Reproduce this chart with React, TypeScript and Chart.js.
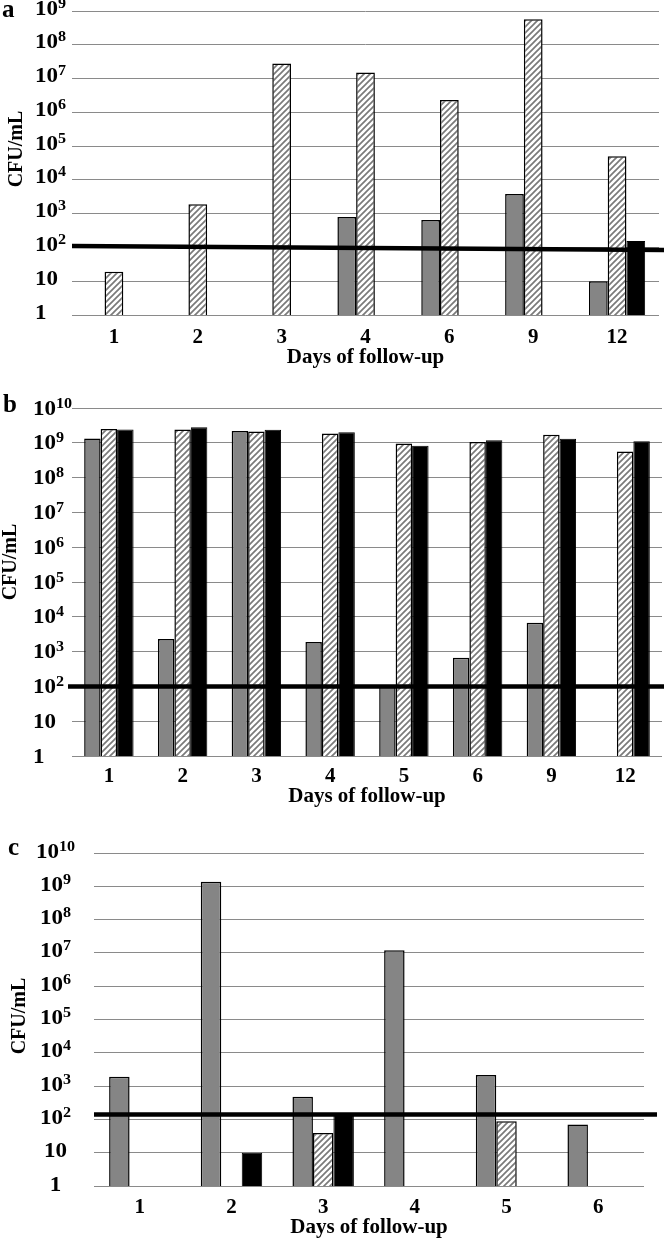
import React, { useEffect, useRef } from 'react';
import { Chart, registerables } from 'chart.js';

Chart.register(...registerables);

// ---------- data ----------
const daysA = ['1', '2', '3', '4', '6', '9', '12'];
const grayA = [null, null, null, 800, 650, 3800, 10];
const hatchA = [19, 1900, 2.8e7, 1.5e7, 2.3e6, 5.7e8, 5e4];
const blackA = [null, null, null, null, null, null, 155];
const thresholdA = [110, 84];

const daysB = ['1', '2', '3', '4', '5', '6', '9', '12'];
const grayB = [1.33e9, 2300, 2.2e9, 1900, 100, 670, 6700, null];
const hatchB = [2.5e9, 2.4e9, 2.1e9, 1.85e9, 9.5e8, 1.06e9, 1.69e9, 5.6e8];
const blackB = [2.4e9, 2.8e9, 2.37e9, 2.0e9, 8.2e8, 1.19e9, 1.3e9, 1.1e9];
const thresholdB = [100, 100];

const daysC = ['1', '2', '3', '4', '5', '6'];
const grayC = [1900, 1.37e9, 480, 1.2e7, 2150, 70];
const hatchC = [null, null, 39, null, 88, null];
const blackC = [null, 10, 150, null, null, null];
const thresholdC = [141, 141];

const yTicksA = [1, 10, 1e2, 1e3, 1e4, 1e5, 1e6, 1e7, 1e8, 1e9];
const yTicksBC = [1, 10, 1e2, 1e3, 1e4, 1e5, 1e6, 1e7, 1e8, 1e9, 1e10];

const xTitle = 'Days of follow-up';
const yTitle = 'CFU/mL';

// ---------- styles ----------
const FONT = '"Liberation Serif", "Times New Roman", serif';
const GRAY = '#858585';
const GRID = '#8a8a8a';
const LABEL_STRETCH = 1.15;

type Vals = (number | null)[];
type PanelCfg = {
  top: number;
  height: number;
  days: string[];
  gray: Vals;
  hatch: Vals;
  black: Vals;
  threshold: number[];
  yTicks: number[];
  yMax: number;
  plotLeft: number;
  padRight: number;
  padTop: number;
  xAxisH: number;
  tickPad: number;
  titlePadBottom: number;
  thrLeft: number;
  thrRight: number;
  yLabelX: number;
  yLabelAlign: 'left' | 'center';
  yLabelDy: number;
  yTitleX: number;
  yTitleY: number;
  letter: string;
  letterX: number;
  letterY: number;
};

function makeHatch(ctx: CanvasRenderingContext2D) {
  const c = document.createElement('canvas');
  c.width = 6;
  c.height = 6;
  const g = c.getContext('2d')!;
  g.fillStyle = '#ffffff';
  g.fillRect(0, 0, 6, 6);
  g.strokeStyle = '#7a7a7a';
  g.lineWidth = 1.7;
  g.beginPath();
  g.moveTo(-1, 7);
  g.lineTo(7, -1);
  g.moveTo(-1, 1);
  g.lineTo(1, -1);
  g.moveTo(5, 7);
  g.lineTo(7, 5);
  g.stroke();
  return ctx.createPattern(c, 'repeat') as CanvasPattern;
}

function makeDecor(cfg: PanelCfg) {
  return {
    id: 'decor' + cfg.letter,
    afterDatasetsDraw(chart: any) {
      const ctx: CanvasRenderingContext2D = chart.ctx;
      const ys = chart.scales.y;
      ctx.save();
      ctx.strokeStyle = '#000';
      ctx.lineWidth = 4.5;
      ctx.beginPath();
      ctx.moveTo(cfg.thrLeft, ys.getPixelForValue(cfg.threshold[0]));
      ctx.lineTo(cfg.thrRight, ys.getPixelForValue(cfg.threshold[1]));
      ctx.stroke();
      ctx.restore();
    },
    afterDraw(chart: any) {
      const ctx: CanvasRenderingContext2D = chart.ctx;
      const ys = chart.scales.y;
      ctx.save();
      ctx.fillStyle = '#000';
      ctx.textBaseline = 'alphabetic';
      ctx.textAlign = 'left';
      const mainFont = `bold 20px ${FONT}`;
      const supFont = `bold 14px ${FONT}`;
      for (const v of cfg.yTicks) {
        const y = ys.getPixelForValue(v) + cfg.yLabelDy;
        const exp = Math.round(Math.log10(v));
        const main = exp === 0 ? '1' : '10';
        const sup = exp >= 2 ? String(exp) : '';
        ctx.font = mainFont;
        const wMain = ctx.measureText(main).width;
        ctx.font = supFont;
        const wSup = sup ? ctx.measureText(sup).width : 0;
        let x = cfg.yLabelX;
        if (cfg.yLabelAlign === 'center') x = cfg.yLabelX - ((wMain + wSup) * LABEL_STRETCH) / 2;
        ctx.save();
        ctx.translate(x, y);
        ctx.scale(LABEL_STRETCH, 1);
        ctx.font = mainFont;
        ctx.fillText(main, 0, 0);
        if (sup) {
          ctx.font = supFont;
          ctx.fillText(sup, wMain, -7);
        }
        ctx.restore();
      }
      // y title
      ctx.save();
      ctx.translate(cfg.yTitleX, cfg.yTitleY);
      ctx.rotate(-Math.PI / 2);
      ctx.textAlign = 'center';
      ctx.font = `bold 20px ${FONT}`;
      ctx.fillText(yTitle, 0, 0);
      ctx.restore();
      // panel letter
      ctx.font = `bold 25px ${FONT}`;
      ctx.textAlign = 'left';
      ctx.fillText(cfg.letter, cfg.letterX, cfg.letterY);
      ctx.restore();
    },
  };
}

function Panel({ cfg }: { cfg: PanelCfg }) {
  const ref = useRef<HTMLCanvasElement>(null);
  useEffect(() => {
    const canvas = ref.current!;
    const ctx = canvas.getContext('2d')!;
    const hatch = makeHatch(ctx);
    const common = {
      categoryPercentage: 0.67,
      barPercentage: 1.0,
      borderColor: '#000',
    };
    const chart = new Chart(ctx, {
      type: 'bar',
      data: {
        labels: cfg.days,
        datasets: [
          { ...common, label: 'gray', data: cfg.gray as any, backgroundColor: GRAY, borderWidth: 1.5 },
          { ...common, label: 'hatched', data: cfg.hatch as any, backgroundColor: hatch as any, borderWidth: 1.5 },
          { ...common, label: 'black', data: cfg.black as any, backgroundColor: '#000', borderWidth: 1 },
        ],
      },
      options: {
        responsive: false,
        animation: false,
        devicePixelRatio: 1,
        layout: { padding: { top: cfg.padTop, right: cfg.padRight, left: 0, bottom: 0 } },
        plugins: {
          legend: { display: false },
          tooltip: { enabled: false },
        },
        scales: {
          x: {
            grid: { display: false, drawTicks: false },
            border: { display: false },
            ticks: {
              color: '#000',
              font: { family: FONT, size: 21, weight: 'bold' },
              padding: cfg.tickPad,
              maxRotation: 0,
              autoSkip: false,
            },
            title: {
              display: true,
              text: xTitle,
              color: '#000',
              font: { family: FONT, size: 21, weight: 'bold' },
              padding: { top: 0, bottom: cfg.titlePadBottom },
            },
            afterFit: (s: any) => {
              s.height = cfg.xAxisH;
            },
          },
          y: {
            type: 'logarithmic',
            min: 1,
            max: cfg.yMax,
            afterBuildTicks: (s: any) => {
              s.ticks = cfg.yTicks.map((v) => ({ value: v }));
            },
            afterFit: (s: any) => {
              s.width = cfg.plotLeft;
            },
            grid: { color: GRID, lineWidth: 1, drawTicks: false },
            border: { display: false },
            ticks: { display: false },
          },
        },
      } as any,
      plugins: [makeDecor(cfg)],
    });
    return () => chart.destroy();
  }, [cfg]);
  return (
    <canvas
      ref={ref}
      width={664}
      height={cfg.height}
      style={{ position: 'absolute', left: 0, top: cfg.top, width: 664, height: cfg.height, display: 'block' }}
    />
  );
}

const panelA: PanelCfg = {
  top: 0, height: 372,
  days: daysA, gray: grayA, hatch: hatchA, black: blackA,
  threshold: thresholdA, yTicks: yTicksA, yMax: 1e9,
  plotLeft: 72, padRight: 5, padTop: 11, xAxisH: 57, tickPad: 10.4, titlePadBottom: 1.4,
  thrLeft: 72, thrRight: 664,
  yLabelX: 35, yLabelAlign: 'left', yLabelDy: 3.5,
  yTitleX: 22, yTitleY: 149,
  letter: 'a', letterX: 2, letterY: 17,
};

const panelB: PanelCfg = {
  top: 380, height: 432,
  days: daysB, gray: grayB, hatch: hatchB, black: blackB,
  threshold: thresholdB, yTicks: yTicksBC, yMax: 1e10,
  plotLeft: 72, padRight: 2, padTop: 28, xAxisH: 56, tickPad: 8.4, titlePadBottom: 2.4,
  thrLeft: 68, thrRight: 664,
  yLabelX: 33, yLabelAlign: 'left', yLabelDy: 6.5,
  yTitleX: 16, yTitleY: 182,
  letter: 'b', letterX: 3, letterY: 32,
};

const panelC: PanelCfg = {
  top: 820, height: 420,
  days: daysC, gray: grayC, hatch: hatchC, black: blackC,
  threshold: thresholdC, yTicks: yTicksBC, yMax: 1e10,
  plotLeft: 94, padRight: 20, padTop: 33, xAxisH: 54, tickPad: 9.4, titlePadBottom: 0,
  thrLeft: 94, thrRight: 657,
  yLabelX: 55.5, yLabelAlign: 'center', yLabelDy: 4.5,
  yTitleX: 25, yTitleY: 196,
  letter: 'c', letterX: 8, letterY: 35,
};

export default function App() {
  return (
    <div style={{ position: 'absolute', left: 0, top: 0, width: 664, height: 1240, background: '#fff' }}>
      <Panel cfg={panelA} />
      <Panel cfg={panelB} />
      <Panel cfg={panelC} />
    </div>
  );
}
